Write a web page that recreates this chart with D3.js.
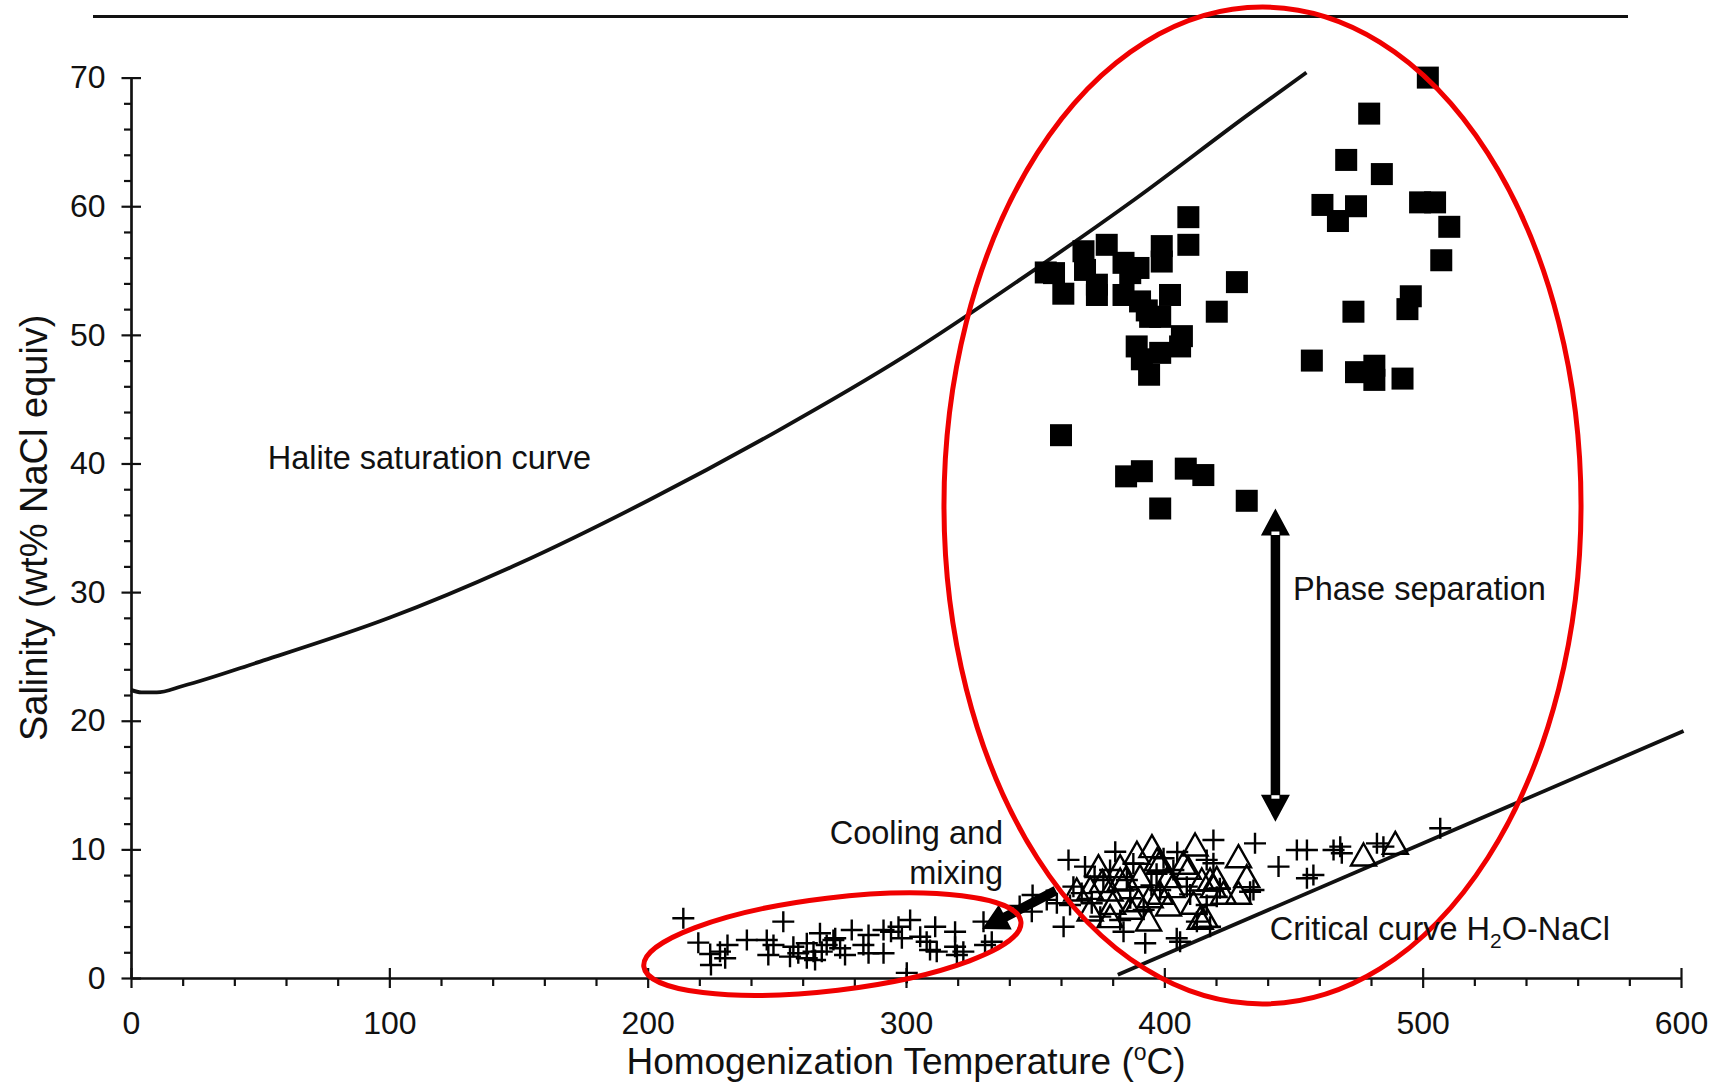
<!DOCTYPE html>
<html>
<head>
<meta charset="utf-8">
<script src="https://cdnjs.cloudflare.com/ajax/libs/d3/7.8.5/d3.min.js"></script>
<style>
  body { margin: 0; background: #fff; }
  text { font-family: Arial, "Liberation Sans", Helvetica, sans-serif; fill: #111; }
</style>
</head>
<body>
<div id="chart"></div>
<script>
// ---- data ----
var xTickValues = [0, 100, 200, 300, 400, 500, 600];
var yTickValues = [0, 10, 20, 30, 40, 50, 60, 70];

// halite saturation curve (T in oC, salinity wt%)
var haliteT = [0, 4, 10, 20, 50, 100, 150, 200, 250, 300, 350, 389, 433, 455];
var haliteS = [22.4, 22.2, 22.2, 22.7, 24.6, 28.0, 32.2, 37.1, 42.5, 48.4, 55.1, 60.6, 67.2, 70.4];

// critical curve H2O-NaCl
var criticalT = [382, 601];
var criticalS = [0.25, 19.2];

// filled squares (hypersaline inclusions)
var squareT = [502.0, 479.3, 470.4, 484.2, 461.2, 474.2, 467.2, 499.0, 504.8, 510.3, 507.2, 495.4, 494.1, 473.2, 457.1, 474.2, 481.3, 481.3, 492.2,
  409.3, 409.3, 428.1, 420.3, 354.1, 360.9, 368.7, 377.7, 373.9, 369.3, 384.2, 390.0, 384.2, 390.6, 394.5, 398.4, 399.0, 399.0, 402.2,
  406.8, 406.1, 389.3, 391.3, 398.4, 394.1, 360.0, 385.2, 391.3, 408.3, 415.1, 398.4, 431.9, 357.3, 373.9, 386.8, 393.2];
var squareS = [70.0, 67.2, 63.6, 62.5, 60.1, 60.0, 58.85, 60.3, 60.3, 58.4, 55.8, 53.0, 52.0, 51.8, 48.0, 47.1, 47.6, 46.5, 46.6,
  59.15, 57.0, 54.1, 51.8, 54.85, 53.2, 56.5, 57.0, 53.1, 55.05, 55.6, 55.2, 53.1, 52.6, 51.4, 51.4, 56.9, 55.7, 53.1,
  49.9, 49.1, 49.1, 48.1, 48.6, 46.9, 42.2, 39.0, 39.4, 39.6, 39.1, 36.5, 37.1, 54.8, 53.9, 54.8, 51.9];

// crosses (low salinity inclusions)
var crossT = [213.8, 219.6, 224.2, 228.0, 230.9, 224.5, 230.0, 238.4, 246.1, 248.7, 246.7, 252.5, 256.4, 258.3, 261.6, 264.2, 266.7, 264.8, 269.3, 271.9, 255.1, 261.6, 267.4,
  272.6, 279.0, 274.5, 276.4, 283.5, 285.5, 285.5, 291.3, 291.3, 297.1, 298.4, 301.6, 305.5, 308.0, 311.3, 309.3, 311.9, 319.0, 319.0, 319.7, 322.2, 300.3, 330.0, 330.6, 333.2, 294.2,
  348.7, 362.9, 361.0, 358.4, 364.8, 369.3, 371.9, 381.0, 375.2, 384.2, 392.6, 404.8, 419.0, 412.6, 416.4, 385.5, 376.4, 363.5, 354.5, 398.4, 403.5, 399.7, 386.8, 379.0, 408.7, 416.4, 382.9, 349.0, 344.0,
  435.1, 444.2, 451.3, 455.2, 455.2, 457.7, 465.5, 468.1, 468.7, 482.3, 484.8, 506.8, 419.0, 434.5, 420.3, 417.7, 421.5, 433.2, 406.1,
  388.0, 395.0, 392.0, 410.0, 373.0, 368.0, 405.0, 397.0];
var crossS = [4.64, 2.75, 1.87, 2.05, 2.57, 1.01, 1.53, 2.95, 2.95, 2.57, 1.79, 4.38, 2.43, 1.92, 2.70, 2.05, 3.48, 1.40, 2.57, 2.95, 1.66, 1.53, 2.05,
  3.09, 3.73, 2.31, 1.79, 2.57, 3.34, 1.92, 3.73, 1.92, 3.99, 3.09, 4.51, 3.21, 2.82, 3.99, 2.18, 2.05, 3.60, 2.43, 1.79, 2.05, 0.4, 4.38, 2.57, 2.82, 3.60,
  5.16, 9.18, 3.99, 5.81, 7.10, 8.66, 5.81, 9.82, 4.77, 3.60, 2.70, 3.09, 10.73, 4.38, 9.18, 7.62, 7.62, 5.68, 6.07, 6.84, 8.40, 9.31, 6.20, 8.40, 7.10, 5.68, 4.51, 6.45, 5.60,
  10.47, 8.66, 9.95, 9.95, 7.75, 8.01, 9.95, 10.21, 9.70, 10.47, 10.21, 11.64, 8.92, 6.84, 6.32, 3.99, 6.97, 6.71, 2.82,
  8.9, 7.2, 5.3, 6.5, 7.9, 6.6, 9.8, 8.1];

// open triangles
var triangleT = [371.3, 379.0, 389.4, 395.2, 411.9, 379.0, 393.9, 413.9, 386.8, 401.6, 390.6, 401.6, 407.4, 414.5, 411.3, 374.5, 382.9, 394.5, 398.4, 419.0,
  428.7, 431.9, 428.7, 366.1, 371.3, 397.2, 398.4, 409.3, 420.3, 422.9, 382.9, 477.1, 489.4, 417.7, 415.8, 376.0, 385.0, 403.0, 380.0, 390.0];
var triangleS = [6.97, 6.84, 9.70, 10.21, 10.34, 4.77, 4.51, 4.64, 5.42, 5.68, 7.88, 7.88, 8.92, 7.62, 5.81, 8.66, 8.66, 6.32, 9.04, 7.10,
  9.43, 7.88, 6.59, 6.84, 5.29, 9.18, 6.59, 8.53, 7.75, 6.59, 7.62, 9.56, 10.47, 7.62, 4.77, 7.5, 7.7, 7.1, 5.8, 6.0];

// ---- layout ----
var svgWidth = 1713;
var svgHeight = 1082;
var margin = { top: 77.6, right: 32, bottom: 104, left: 131 };
var width = svgWidth - margin.left - margin.right;
var height = svgHeight - margin.top - margin.bottom;

var svg = d3.select("#chart").append("svg")
  .attr("width", svgWidth)
  .attr("height", svgHeight)
  .style("background", "#fff");

// rule across the top of the figure
svg.append("line")
  .attr("x1", 93).attr("x2", 1628)
  .attr("y1", 16.4).attr("y2", 16.4)
  .attr("stroke", "#111").attr("stroke-width", 3);

var chartGroup = svg.append("g")
  .attr("transform", `translate(${margin.left}, ${margin.top})`);

var xScale = d3.scaleLinear().domain([0, 600]).range([0, width]);
var yScale = d3.scaleLinear().domain([0, 70]).range([height, 0]);

// ---- axes ----
var xMinor = d3.range(0, 601, 20).filter(d => d % 100 !== 0);
var yMinor = d3.range(0, 71, 2).filter(d => d % 10 !== 0);

function styleAxis(g) {
  g.selectAll("path, line").attr("stroke", "#111").attr("stroke-width", 2.2);
  g.selectAll("text").style("font-size", "32px").attr("fill", "#111");
}

chartGroup.append("g")
  .call(d3.axisLeft(yScale).tickValues(yMinor).tickSize(7).tickSizeOuter(0).tickFormat(""))
  .call(styleAxis);
chartGroup.append("g")
  .call(d3.axisRight(yScale).tickValues(yTickValues).tickSize(10).tickSizeOuter(0).tickFormat(""))
  .call(g => g.select(".domain").remove())
  .call(styleAxis);
chartGroup.append("g")
  .call(d3.axisLeft(yScale).tickValues(yTickValues).tickSize(9.5).tickSizeOuter(0).tickPadding(16))
  .call(styleAxis);

chartGroup.append("g")
  .attr("transform", `translate(0, ${height})`)
  .call(d3.axisBottom(xScale).tickValues(xMinor).tickSize(8).tickSizeOuter(0).tickFormat(""))
  .call(styleAxis);
chartGroup.append("g")
  .attr("transform", `translate(0, ${height})`)
  .call(d3.axisTop(xScale).tickValues(xTickValues).tickSize(10).tickSizeOuter(0).tickFormat(""))
  .call(g => g.select(".domain").remove())
  .call(styleAxis);
chartGroup.append("g")
  .attr("transform", `translate(0, ${height})`)
  .call(d3.axisBottom(xScale).tickValues(xTickValues).tickSize(10).tickSizeOuter(0).tickPadding(23))
  .call(styleAxis);

// axis titles
var xTitle = chartGroup.append("text")
  .attr("x", width / 2)
  .attr("y", height + 96)
  .attr("text-anchor", "middle")
  .style("font-size", "37px");
xTitle.append("tspan").text("Homogenization Temperature (");
xTitle.append("tspan").text("o").style("font-size", "23px").attr("dy", "-14");
xTitle.append("tspan").text("C)").attr("dy", "14");

chartGroup.append("text")
  .attr("transform", `translate(${47 - margin.left}, ${height / 2}) rotate(-90)`)
  .attr("text-anchor", "middle")
  .style("font-size", "38px")
  .text("Salinity (wt% NaCl equiv)");

// ---- curves ----
var curveLine = d3.line()
  .x(d => xScale(d[0]))
  .y(d => yScale(d[1]))
  .curve(d3.curveMonotoneX);

chartGroup.append("path")
  .datum(haliteT.map((t, i) => [t, haliteS[i]]))
  .attr("d", curveLine)
  .attr("fill", "none")
  .attr("stroke", "#111")
  .attr("stroke-width", 3.8);

chartGroup.append("path")
  .datum(criticalT.map((t, i) => [t, criticalS[i]]))
  .attr("d", d3.line().x(d => xScale(d[0])).y(d => yScale(d[1])))
  .attr("fill", "none")
  .attr("stroke", "#111")
  .attr("stroke-width", 3.8);

// ---- markers ----
chartGroup.append("g").selectAll("rect")
  .data(squareT.map((t, i) => [t, squareS[i]]))
  .enter()
  .append("rect")
  .attr("x", d => xScale(d[0]) - 11)
  .attr("y", d => yScale(d[1]) - 11)
  .attr("width", 22)
  .attr("height", 22)
  .attr("fill", "#000");

chartGroup.append("g").selectAll("path")
  .data(crossT.map((t, i) => [t, crossS[i]]))
  .enter()
  .append("path")
  .attr("transform", d => `translate(${xScale(d[0])}, ${yScale(d[1])})`)
  .attr("d", "M-11,0H11M0,-10.5V10.5")
  .attr("stroke", "#000")
  .attr("stroke-width", 2.4);

chartGroup.append("g").selectAll("path")
  .data(triangleT.map((t, i) => [t, triangleS[i]]))
  .enter()
  .append("path")
  .attr("transform", d => `translate(${xScale(d[0])}, ${yScale(d[1])})`)
  .attr("d", "M0,-11.5L12.5,10.5L-12.5,10.5Z")
  .attr("fill", "none")
  .attr("stroke", "#000")
  .attr("stroke-width", 2.4);

// ---- arrows ----
function arrowPoints(x1, y1, x2, y2, shaft, headLen, headW, both) {
  var dx = x2 - x1, dy = y2 - y1, len = Math.hypot(dx, dy);
  var ux = dx / len, uy = dy / len, nx = -uy, ny = ux;
  var s = shaft / 2, h = headW / 2;
  function pt(a, b) { return [x1 + ux * a + nx * b, y1 + uy * a + ny * b]; }
  if (both) {
    return [pt(0, 0), pt(headLen, h), pt(headLen, s), pt(len - headLen, s), pt(len - headLen, h), pt(len, 0),
      pt(len - headLen, -h), pt(len - headLen, -s), pt(headLen, -s), pt(headLen, -h)];
  }
  return [pt(0, s), pt(len - headLen, s), pt(len - headLen, h), pt(len, 0), pt(len - headLen, -h), pt(len - headLen, -s), pt(0, -s)];
}
var polyLine = d3.line();

// phase separation double arrow
var phaseX = xScale(443);
chartGroup.append("path")
  .attr("d", polyLine(arrowPoints(phaseX, yScale(36.5), phaseX, yScale(12.15), 9.5, 27, 29, true)) + "Z")
  .attr("fill", "#000");
chartGroup.append("rect")
  .attr("x", phaseX - 4).attr("y", yScale(36.5) + 23).attr("width", 8).attr("height", 3.5).attr("fill", "#fff");
chartGroup.append("rect")
  .attr("x", phaseX - 4).attr("y", yScale(12.15) - 26.5).attr("width", 8).attr("height", 3.5).attr("fill", "#fff");

// cooling and mixing arrow
chartGroup.append("path")
  .attr("d", polyLine(arrowPoints(xScale(358), yScale(6.8), xScale(329.5), yScale(3.8), 9.5, 26, 28, false)) + "Z")
  .attr("fill", "#000");

// ---- red ellipses ----
var bigC = [438, 36.73];
chartGroup.append("ellipse")
  .attr("cx", xScale(bigC[0]))
  .attr("cy", yScale(bigC[1]))
  .attr("rx", xScale(123.3) - xScale(0))
  .attr("ry", yScale(0) - yScale(38.75))
  .attr("fill", "none")
  .attr("stroke", "#f00000")
  .attr("stroke-width", 5);

var smallC = [271.5, 2.63];
chartGroup.append("ellipse")
  .attr("cx", xScale(smallC[0]))
  .attr("cy", yScale(smallC[1]))
  .attr("rx", xScale(73.5) - xScale(0))
  .attr("ry", yScale(0) - yScale(3.6))
  .attr("transform", `rotate(-6.8, ${xScale(smallC[0])}, ${yScale(smallC[1])})`)
  .attr("fill", "none")
  .attr("stroke", "#f00000")
  .attr("stroke-width", 5);

// ---- annotations ----
function note(t, s, str, anchor) {
  return chartGroup.append("text")
    .attr("x", xScale(t))
    .attr("y", yScale(s))
    .attr("text-anchor", anchor || "start")
    .style("font-size", "32.5px")
    .text(str);
}
note(52.9, 39.55, "Halite saturation curve");
note(449.8, 29.4, "Phase separation");
note(337.6, 10.43, "Cooling and", "end");
note(337.6, 7.3, "mixing", "end");

var crit = note(440.8, 2.95, "Critical curve H");
crit.append("tspan").text("2").style("font-size", "21px").attr("dy", "8");
crit.append("tspan").text("O-NaCl").attr("dy", "-8");
</script>
</body>
</html>
